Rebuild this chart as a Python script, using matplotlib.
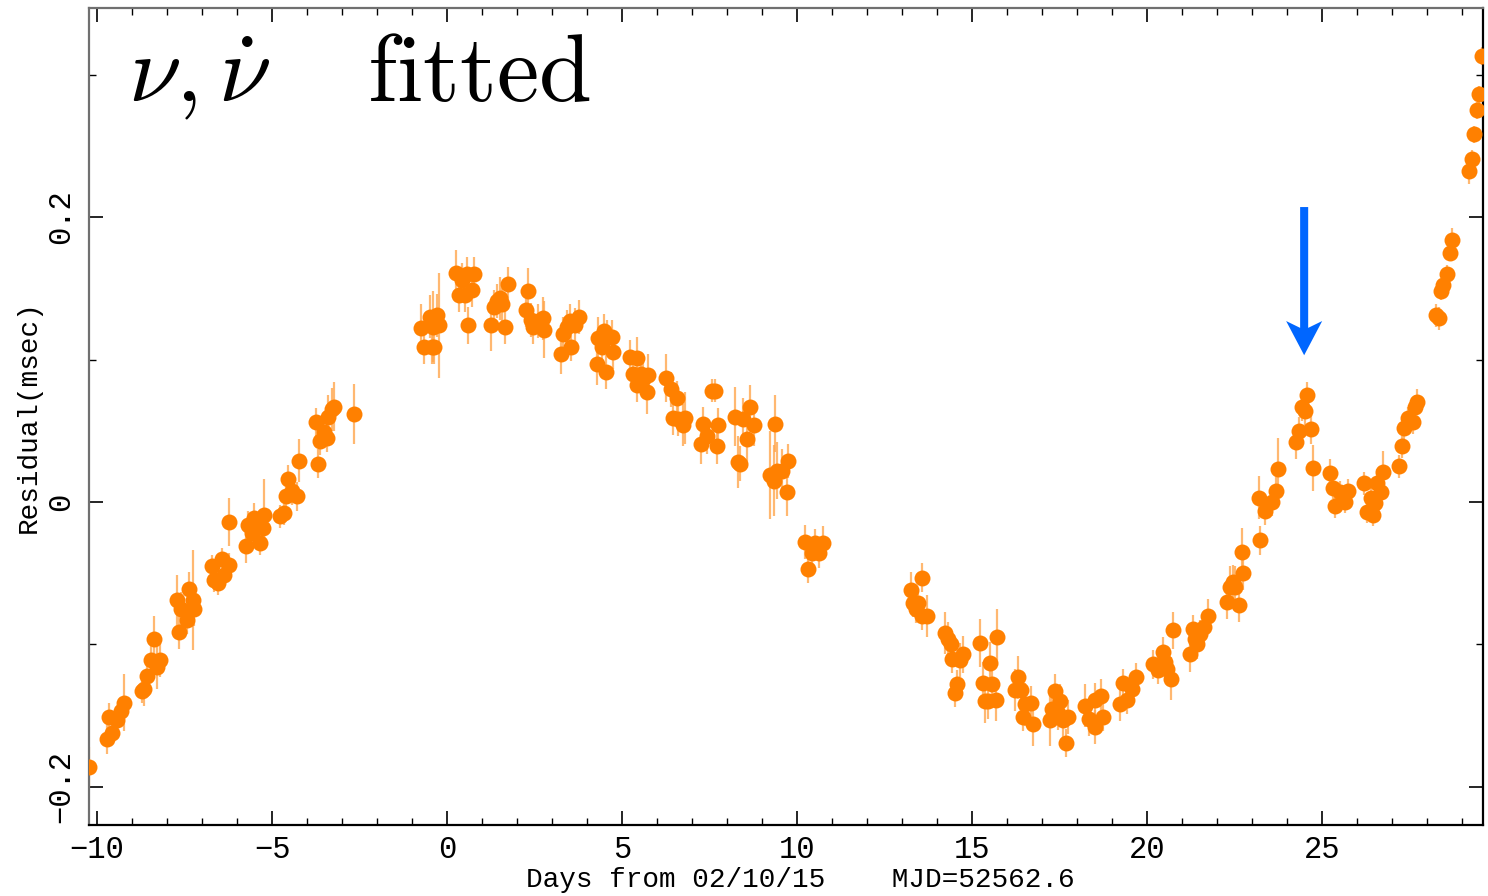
import matplotlib
matplotlib.use("Agg")
import matplotlib.pyplot as plt
from matplotlib.ticker import FixedLocator, MultipleLocator

# Timing residuals: days from 2002-10-15 (MJD 52562.6), residual in msec, 1-sigma error
days = [
    -10.23, -9.72, -9.56, -9.66, -9.44, -9.31, -9.22, -8.72, -8.65, -8.58,
    -8.46, -8.28, -8.20, -8.37, -7.66, -7.72, -7.60, -7.44, -7.36, -7.25,
    -7.22, -6.72, -6.66, -6.55, -6.44, -6.37, -6.23, -6.22, -5.74, -5.68,
    -5.58, -5.51, -5.34, -5.27, -5.22, -4.77, -4.66, -4.60, -4.53, -4.44,
    -4.28, -4.23, -3.68, -3.74, -3.63, -3.51, -3.42, -3.39, -3.29, -3.22,
    -2.65,
    -0.75, -0.66, -0.49, -0.44, -0.39, -0.28, -0.22, -0.36, 0.26, 0.35,
    0.42, 0.51, 0.56, 0.71, 0.77, 0.59, 1.25, 1.34, 1.42, 1.51,
    1.58, 1.66, 1.75, 2.32, 2.26, 2.39, 2.47, 2.61, 2.73, 2.77,
    3.26, 3.32, 3.42, 3.51, 3.54, 3.66, 3.78, 4.28, 4.32, 4.42,
    4.49, 4.54, 4.58, 4.72, 4.75, 5.23, 5.32, 5.42, 5.44, 5.53,
    5.61, 5.71, 5.75, 6.26, 6.39, 6.45, 6.56, 6.61, 6.73, 6.80,
    7.25, 7.32, 7.42, 7.56, 7.67, 7.71, 7.75, 8.23, 8.32, 8.37,
    8.47, 8.58, 8.66, 8.76, 9.37, 9.23, 9.33, 9.42, 9.56, 9.71,
    9.75, 10.23, 10.30, 10.42, 10.51, 10.64, 10.75,
    13.25, 13.56, 13.30, 13.45, 13.40, 13.56, 13.71, 14.23, 14.32, 14.39,
    14.42, 14.66, 14.75, 14.58, 14.51, 15.23, 15.72, 15.51, 15.30, 15.58,
    15.37, 15.47, 15.69, 16.31, 16.23, 16.39, 16.51, 16.68, 16.45, 16.73,
    17.37, 17.51, 17.28, 17.23, 17.47, 17.59, 17.75, 17.68, 18.23, 18.35,
    18.51, 18.51, 18.68, 18.73, 19.23, 19.31, 19.44, 19.56, 19.68, 20.18,
    20.32, 20.45, 20.51, 20.56, 20.68, 20.73, 21.23, 21.31, 21.37, 21.44,
    21.51, 21.63, 21.73, 22.29, 22.37, 22.51, 22.64, 22.45, 22.73, 22.71,
    23.24, 23.21, 23.37, 23.56, 23.69, 23.73, 24.26, 24.35, 24.43, 24.51,
    24.58, 24.69, 24.73, 25.23, 25.31, 25.37, 25.51, 25.66, 25.75, 26.21,
    26.28, 26.39, 26.45, 26.51, 26.58, 26.69, 26.73, 27.21, 27.28, 27.34,
    27.47, 27.59, 27.66, 27.72, 28.26, 28.35, 28.40, 28.47, 28.56, 28.66,
    28.72, 29.21, 29.28, 29.35, 29.42, 29.49, 29.56,
]

resid = [
    -0.186, -0.166, -0.162, -0.151, -0.153, -0.147, -0.141, -0.133, -0.131, -0.122,
    -0.111, -0.116, -0.111, -0.096, -0.091, -0.069, -0.075, -0.083, -0.061, -0.069,
    -0.075, -0.045, -0.055, -0.057, -0.040, -0.051, -0.044, -0.014, -0.031, -0.016,
    -0.022, -0.011, -0.029, -0.018, -0.009, -0.010, -0.008, 0.004, 0.016, 0.008,
    0.004, 0.029, 0.027, 0.056, 0.043, 0.049, 0.045, 0.060, 0.065, 0.067,
    0.062,
    0.122, 0.109, 0.130, 0.109, 0.123, 0.131, 0.124, 0.109, 0.161, 0.145,
    0.156, 0.145, 0.160, 0.149, 0.160, 0.124, 0.124, 0.137, 0.141, 0.143,
    0.139, 0.123, 0.153, 0.148, 0.135, 0.128, 0.123, 0.127, 0.129, 0.121,
    0.104, 0.118, 0.123, 0.127, 0.109, 0.124, 0.130, 0.097, 0.115, 0.109,
    0.120, 0.091, 0.116, 0.116, 0.105, 0.102, 0.090, 0.101, 0.082, 0.090,
    0.086, 0.077, 0.089, 0.087, 0.079, 0.059, 0.073, 0.058, 0.054, 0.059,
    0.041, 0.055, 0.046, 0.078, 0.078, 0.039, 0.054, 0.060, 0.028, 0.027,
    0.058, 0.044, 0.067, 0.054, 0.055, 0.019, 0.015, 0.022, 0.022, 0.007,
    0.029, -0.028, -0.047, -0.036, -0.029, -0.036, -0.029,
    -0.062, -0.053, -0.071, -0.071, -0.075, -0.080, -0.080, -0.092, -0.096, -0.100,
    -0.110, -0.111, -0.107, -0.128, -0.134, -0.099, -0.095, -0.113, -0.127, -0.128,
    -0.140, -0.140, -0.139, -0.123, -0.132, -0.132, -0.142, -0.141, -0.151, -0.156,
    -0.133, -0.140, -0.145, -0.153, -0.148, -0.153, -0.151, -0.169, -0.143, -0.152,
    -0.158, -0.139, -0.136, -0.151, -0.142, -0.127, -0.139, -0.131, -0.123, -0.114,
    -0.118, -0.105, -0.112, -0.117, -0.124, -0.090, -0.107, -0.089, -0.096, -0.100,
    -0.093, -0.088, -0.080, -0.070, -0.060, -0.060, -0.072, -0.056, -0.050, -0.035,
    -0.027, 0.003, -0.006, 0.000, 0.008, 0.023, 0.042, 0.050, 0.067, 0.064,
    0.075, 0.051, 0.024, 0.020, 0.010, -0.003, 0.007, 0.000, 0.008, 0.013,
    -0.007, 0.003, -0.009, -0.001, 0.013, 0.007, 0.021, 0.025, 0.039, 0.052,
    0.059, 0.056, 0.067, 0.070, 0.131, 0.129, 0.148, 0.152, 0.160, 0.175,
    0.184, 0.232, 0.241, 0.258, 0.275, 0.286, 0.313,
]

err = [
    0.014, 0.011, 0.008, 0.010, 0.008, 0.010, 0.020, 0.008, 0.012, 0.008,
    0.010, 0.015, 0.012, 0.016, 0.012, 0.018, 0.012, 0.010, 0.012, 0.035,
    0.012, 0.008, 0.008, 0.008, 0.008, 0.008, 0.008, 0.017, 0.012, 0.010,
    0.010, 0.010, 0.008, 0.010, 0.025, 0.008, 0.008, 0.010, 0.010, 0.010,
    0.010, 0.015, 0.010, 0.010, 0.010, 0.010, 0.010, 0.015, 0.015, 0.017,
    0.021,
    0.017, 0.012, 0.015, 0.012, 0.025, 0.015, 0.037, 0.012, 0.016, 0.012,
    0.012, 0.012, 0.012, 0.012, 0.012, 0.013, 0.018, 0.012, 0.012, 0.015,
    0.012, 0.012, 0.012, 0.016, 0.012, 0.012, 0.012, 0.012, 0.015, 0.020,
    0.014, 0.012, 0.012, 0.012, 0.010, 0.012, 0.012, 0.015, 0.015, 0.012,
    0.012, 0.012, 0.012, 0.012, 0.012, 0.012, 0.012, 0.015, 0.012, 0.012,
    0.012, 0.015, 0.015, 0.017, 0.012, 0.012, 0.012, 0.012, 0.015, 0.018,
    0.014, 0.012, 0.012, 0.008, 0.008, 0.012, 0.012, 0.021, 0.018, 0.012,
    0.015, 0.020, 0.015, 0.015, 0.020, 0.031, 0.025, 0.020, 0.015, 0.017,
    0.012, 0.012, 0.010, 0.010, 0.010, 0.010, 0.012,
    0.013, 0.010, 0.010, 0.010, 0.010, 0.010, 0.015, 0.015, 0.012, 0.010,
    0.010, 0.012, 0.013, 0.010, 0.010, 0.017, 0.020, 0.015, 0.015, 0.012,
    0.015, 0.012, 0.015, 0.015, 0.015, 0.012, 0.015, 0.012, 0.010, 0.015,
    0.012, 0.012, 0.012, 0.018, 0.012, 0.012, 0.012, 0.010, 0.015, 0.012,
    0.012, 0.012, 0.012, 0.010, 0.012, 0.010, 0.010, 0.010, 0.010, 0.010,
    0.010, 0.010, 0.010, 0.010, 0.015, 0.013, 0.012, 0.010, 0.010, 0.010,
    0.010, 0.010, 0.012, 0.012, 0.015, 0.015, 0.012, 0.012, 0.012, 0.017,
    0.010, 0.015, 0.010, 0.010, 0.010, 0.022, 0.012, 0.010, 0.010, 0.010,
    0.009, 0.010, 0.016, 0.010, 0.008, 0.008, 0.008, 0.008, 0.008, 0.008,
    0.008, 0.008, 0.008, 0.008, 0.010, 0.008, 0.015, 0.008, 0.008, 0.008,
    0.008, 0.008, 0.008, 0.009, 0.008, 0.008, 0.006, 0.006, 0.006, 0.006,
    0.008, 0.009, 0.006, 0.006, 0.006, 0.006, 0.006,
]

x_major = [-10, -5, 0, 5, 10, 15, 20, 25]
x_labels = ["\u221210", "\u22125", "0", "5", "10", "15", "20", "25"]
y_major = [-0.2, 0.0, 0.2]
y_labels = ["\u22120.2", "0", "0.2"]

# glitch-candidate marker
arrow_day = 24.49
arrow_from, arrow_to = 0.207, 0.103

plt.rcParams["mathtext.fontset"] = "cm"
label_font = ["Liberation Mono", "DejaVu Sans Mono"]

fig = plt.figure(figsize=(14.88, 8.96), dpi=100)
ax = fig.add_axes([89 / 1488, 71 / 896, 1394 / 1488, 817 / 896])

ax.errorbar(days, resid, yerr=err, fmt="none", ecolor="#ffa64d",
            elinewidth=1.6, alpha=0.8, zorder=2)
ax.plot(days, resid, "o", ms=11.5, color="#ff8000", mec="none", zorder=3)

ax.arrow(arrow_day, arrow_from, 0, arrow_to - arrow_from, width=0.23,
         head_width=1.03, head_length=0.024, length_includes_head=True,
         overhang=0.2, color="#0066ff", ec="none", zorder=4)

ax.set_xlim(-10.23, 29.6)
ax.set_ylim(-0.2267, 0.3467)

ax.xaxis.set_major_locator(FixedLocator(x_major))
ax.xaxis.set_minor_locator(MultipleLocator(1))
ax.yaxis.set_major_locator(FixedLocator(y_major))
ax.yaxis.set_minor_locator(MultipleLocator(0.1))
ax.set_xticklabels(x_labels, family=label_font, fontsize=22)
ax.set_yticklabels(y_labels, family=label_font, fontsize=22,
                   rotation=90, va="center")

ax.tick_params(which="both", direction="in", top=True, right=True)
ax.tick_params(which="major", length=10, width=1.2)
ax.tick_params(which="minor", length=5, width=1.0)
ax.tick_params(axis="x", pad=7)
ax.tick_params(axis="y", pad=9)

for side in ("bottom", "right"):
    ax.spines[side].set_color("black")
    ax.spines[side].set_linewidth(1.6)
for side in ("left", "top"):
    ax.spines[side].set_color("#707070")
    ax.spines[side].set_linewidth(1.6)

ax.set_xlabel("Days from 02/10/15    MJD=52562.6", family=label_font, fontsize=20)
ax.xaxis.set_label_coords(0.51, -0.052)
ax.set_ylabel("Residual(msec)", family=label_font, fontsize=20)
ax.yaxis.set_label_coords(-0.034, 0.5)

ax.text(0.028, 0.887, r"$\nu,\dot{\nu}\quad\:\mathrm{fitted}$", transform=ax.transAxes,
        fontsize=68.5, ha="left", va="baseline")

fig.savefig("out.png", dpi=100)
